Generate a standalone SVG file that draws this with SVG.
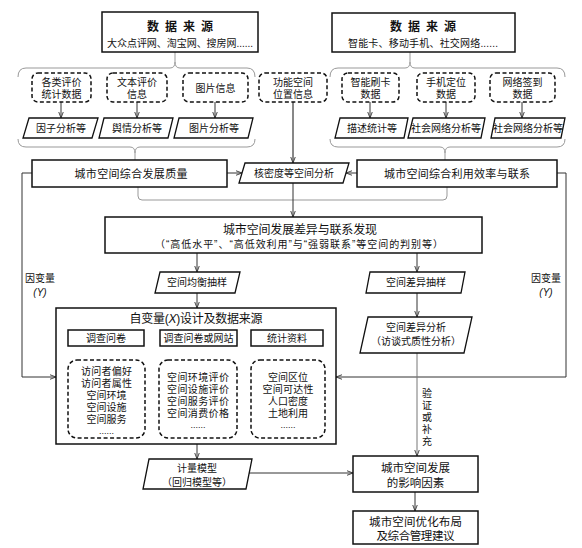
<svg xmlns="http://www.w3.org/2000/svg" width="582" height="548" viewBox="0 0 582 548">
<defs>
<style>
text{font-family:"Liberation Sans","Noto Sans CJK SC",sans-serif;fill:#111;text-anchor:middle;}
.t9{font-size:9px;}
.t10{font-size:10px;}
.t11{font-size:11px;}
.t115{font-size:11.5px;}
.t12{font-size:12px;}
.box{fill:#fff;stroke:#111;stroke-width:1.5;}
.dash{fill:#fff;stroke:#111;stroke-width:1.5;stroke-dasharray:4 2.5;}
.par{fill:#fff;stroke:#111;stroke-width:1.3;}
.con{fill:none;stroke:#333;stroke-width:1;}
.gray{fill:none;stroke:#999;stroke-width:1;}
.it{font-style:italic;}
</style>
<marker id="ah" viewBox="0 0 8 8" refX="8" refY="4" markerWidth="6" markerHeight="6" orient="auto" markerUnits="userSpaceOnUse">
<path d="M0,1 L8,4 L0,7" fill="none" stroke="#333" stroke-width="1.2"/>
</marker>
</defs>
<rect width="582" height="548" fill="#fff"/>

<g id="connectors">
<path class="gray" d="M18,77 Q18,68 26,68 L170,68 Q175,68 175,62 L175,52 M175,62 Q175,68 180,68 L247,68 Q255,68 255,77"/>
<path class="gray" d="M330,77 Q330,68 338,68 L405,68 Q410,68 410,62 L410,52 M410,62 Q410,68 415,68 L557,68 Q565,68 565,77"/>
<path class="gray" d="M18,139 Q18,147 26,147 L130,147 Q135,147 135,153 L135,160 M135,153 Q135,147 140,147 L247,147 Q255,147 255,139"/>
<path class="gray" d="M330,139 Q330,147 338,147 L440,147 Q445,147 445,153 L445,160 M445,153 Q445,147 450,147 L557,147 Q565,147 565,139"/>
<line class="con" x1="61" y1="102" x2="61" y2="118" marker-end="url(#ah)"/>
<line class="con" x1="137" y1="102" x2="137" y2="118" marker-end="url(#ah)"/>
<line class="con" x1="215" y1="102" x2="215" y2="118" marker-end="url(#ah)"/>
<line class="con" x1="370" y1="102" x2="370" y2="118" marker-end="url(#ah)"/>
<line class="con" x1="446" y1="102" x2="446" y2="118" marker-end="url(#ah)"/>
<line class="con" x1="522" y1="102" x2="522" y2="118" marker-end="url(#ah)"/>
<line class="con" x1="293" y1="102" x2="293" y2="163" marker-end="url(#ah)" style="stroke:#111"/>
<line class="con" x1="227" y1="173" x2="242" y2="173" marker-end="url(#ah)"/>
<line class="con" x1="357" y1="173" x2="346" y2="173" marker-end="url(#ah)"/>
<path class="gray" d="M138,187 L138,196 Q138,200 142,200 L293,200"/>
<path class="gray" d="M447,187 L447,196 Q447,200 443,200 L293,200"/>
<line class="con" x1="293" y1="183" x2="293" y2="217" marker-end="url(#ah)"/>
<line class="con" x1="197" y1="253" x2="197" y2="272" marker-end="url(#ah)"/>
<line class="con" x1="417" y1="253" x2="417" y2="272" marker-end="url(#ah)"/>
<line class="con" x1="197" y1="293" x2="197" y2="308" marker-end="url(#ah)"/>
<line class="con" x1="417" y1="293" x2="417" y2="317" marker-end="url(#ah)"/>
<path class="con" d="M32,173 L22,173 L22,377 L56,377" marker-end="url(#ah)"/>
<path class="con" d="M557,173 L566,173 L566,377 L336,377" marker-end="url(#ah)"/>
<line class="con" x1="106" y1="346" x2="106" y2="360" marker-end="url(#ah)"/>
<line class="con" x1="198" y1="346" x2="198" y2="360" marker-end="url(#ah)"/>
<line class="con" x1="287" y1="346" x2="287" y2="360" marker-end="url(#ah)"/>
<line class="con" x1="417" y1="353" x2="417" y2="456" marker-end="url(#ah)" style="stroke:#777"/>
<line class="con" x1="197" y1="444" x2="197" y2="459" marker-end="url(#ah)"/>
<line class="con" x1="249" y1="473" x2="353" y2="473" marker-end="url(#ah)"/>
<line class="con" x1="415" y1="492" x2="415" y2="511" marker-end="url(#ah)"/>
</g>

<g id="src-left">
<rect class="box" x="102" y="12" width="156" height="40"/>
<text class="t12" x="180" y="31" font-weight="bold" textLength="66">数据来源</text>
<text class="t10" x="180" y="47" textLength="146">大众点评网、淘宝网、搜房网......</text>
</g>
<g id="src-right">
<rect class="box" x="332" y="13" width="183" height="39"/>
<text class="t12" x="423" y="31" font-weight="bold" textLength="66">数据来源</text>
<text class="t10" x="423" y="47" textLength="150">智能卡、移动手机、社交网络......</text>
</g>

<g id="d1"><rect class="dash" x="32" y="73" width="59" height="29" rx="6"/><text class="t10" x="61.5" y="86">各类评价</text><text class="t10" x="61.5" y="98">统计数据</text></g>
<g id="d2"><rect class="dash" x="107" y="73" width="60" height="29" rx="6"/><text class="t10" x="137" y="86">文本评价</text><text class="t10" x="137" y="98">信息</text></g>
<g id="d3"><rect class="dash" x="183" y="73" width="65" height="29" rx="6"/><text class="t10" x="215.5" y="91.5">图片信息</text></g>
<g id="d4"><rect class="dash" x="259" y="73" width="68" height="29" rx="6"/><text class="t10" x="293" y="86">功能空间</text><text class="t10" x="293" y="98">位置信息</text></g>
<g id="d5"><rect class="dash" x="342" y="73" width="57" height="29" rx="6"/><text class="t10" x="370.5" y="86">智能刷卡</text><text class="t10" x="370.5" y="98">数据</text></g>
<g id="d6"><rect class="dash" x="417" y="73" width="58" height="29" rx="6"/><text class="t10" x="446" y="86">手机定位</text><text class="t10" x="446" y="98">数据</text></g>
<g id="d7"><rect class="dash" x="490" y="73" width="65" height="29" rx="6"/><text class="t10" x="522.5" y="86">网络签到</text><text class="t10" x="522.5" y="98">数据</text></g>

<g id="p1"><polygon class="par" points="29,118 98,118 92,138 23,138"/><text class="t10" x="61" y="132">因子分析等</text></g>
<g id="p2"><polygon class="par" points="104,118 173,118 168,138 99,138"/><text class="t10" x="137" y="132">舆情分析等</text></g>
<g id="p3"><polygon class="par" points="179,118 253,118 248,138 174,138"/><text class="t10" x="214" y="132">图片分析等</text></g>
<g id="p4"><polygon class="par" points="340,118 408,118 404,138 335,138"/><text class="t10" x="372" y="132">描述统计等</text></g>
<g id="p5"><polygon class="par" points="413,118 485,118 481,138 408,138"/><text class="t10" x="446" y="132">社会网络分析等</text></g>
<g id="p6"><polygon class="par" points="495,118 565,118 561,138 491,138"/><text class="t10" x="528" y="132">社会网络分析等</text></g>

<g id="quality"><rect class="box" x="32" y="160" width="195" height="27"/><text class="t11" x="131" y="177.5" textLength="113">城市空间综合发展质量</text></g>
<g id="kde"><polygon class="par" points="245,163 349,163 343,183 239,183"/><text class="t10" x="294" y="177">核密度等空间分析</text></g>
<g id="efficiency"><rect class="box" x="357" y="160" width="200" height="27"/><text class="t11" x="457" y="177.5" textLength="146">城市空间综合利用效率与联系</text></g>

<g id="discovery"><rect class="box" x="105" y="217" width="377" height="36"/>
<text class="t12" x="300" y="234" textLength="154">城市空间发展差异与联系发现</text>
<text class="t10" x="299" y="248" textLength="288">（“高低水平”、“高低效利用”与“强弱联系”等空间的判别等）</text></g>

<g id="balanced"><polygon class="par" points="160,272 240,272 235,293 155,293"/><text class="t10" x="197" y="286">空间均衡抽样</text></g>
<g id="diffsample"><polygon class="par" points="370,272 465,272 461,293 366,293"/><text class="t10" x="416" y="286">空间差异抽样</text></g>
<g id="diffanalysis"><polygon class="par" points="368,317 472,317 464,353 360,353"/><text class="t10" x="416" y="331">空间差异分析</text><text class="t10" x="416" y="345">（访谈式质性分析）</text></g>

<g id="labelY-left"><text class="t10" x="40" y="282">因变量</text><text class="t10 it" x="40" y="296" font-family="Liberation Serif">(Y)</text></g>
<g id="labelY-right"><text class="t10" x="546" y="282">因变量</text><text class="t10 it" x="546" y="296" font-family="Liberation Serif">(Y)</text></g>

<g id="independent">
<rect class="box" x="56" y="308" width="280" height="136"/>
<text class="t12" x="196" y="323" textLength="133">自变量(<tspan class="it">X</tspan>)设计及数据来源</text>
<rect class="box" x="68" y="330" width="76" height="16"/><text class="t10" x="106" y="342">调查问卷</text>
<rect class="box" x="160" y="330" width="77" height="16"/><text class="t10" x="198.5" y="342">调查问卷或网站</text>
<rect class="box" x="251" y="330" width="72" height="16"/><text class="t10" x="287" y="342">统计资料</text>
<rect class="dash" x="68" y="360" width="77" height="78" rx="9"/>
<rect class="dash" x="159" y="360" width="78" height="78" rx="9"/>
<rect class="dash" x="251" y="360" width="74" height="78" rx="9"/>
<text class="t10" x="106.5" y="375" textLength="51">访问者偏好</text>
<text class="t10" x="106.5" y="387" textLength="51">访问者属性</text>
<text class="t10" x="106.5" y="399">空间环境</text>
<text class="t10" x="106.5" y="411">空间设施</text>
<text class="t10" x="106.5" y="423">空间服务</text>
<text class="t9" x="106.5" y="434">......</text>
<text class="t10" x="198" y="381" textLength="62">空间环境评价</text>
<text class="t10" x="198" y="393" textLength="62">空间设施评价</text>
<text class="t10" x="198" y="405" textLength="62">空间服务评价</text>
<text class="t10" x="198" y="417" textLength="62">空间消费价格</text>
<text class="t9" x="198" y="428">......</text>
<text class="t10" x="288" y="381">空间区位</text>
<text class="t10" x="288" y="393" textLength="51">空间可达性</text>
<text class="t10" x="288" y="405">人口密度</text>
<text class="t10" x="288" y="417">土地利用</text>
<text class="t9" x="288" y="428">......</text>
</g>

<g id="verify-label">
<text class="t10" x="427" y="397">验</text>
<text class="t10" x="427" y="409">证</text>
<text class="t10" x="427" y="421">或</text>
<text class="t10" x="427" y="433">补</text>
<text class="t10" x="427" y="445">充</text>
</g>

<g id="model"><polygon class="par" points="149,459 252,459 246,489 143,489"/><text class="t10" x="197" y="472">计量模型</text><text class="t10" x="197" y="486">（回归模型等）</text></g>
<g id="factors"><rect class="box" x="353" y="456" width="125" height="36"/><text class="t115" x="415.5" y="472">城市空间发展</text><text class="t115" x="415.5" y="487">的影响因素</text></g>
<g id="suggestions"><rect class="box" x="353" y="511" width="125" height="33"/><text class="t115" x="415.5" y="526" textLength="93">城市空间优化布局</text><text class="t115" x="415.5" y="540" textLength="78">及综合管理建议</text></g>
</svg>
